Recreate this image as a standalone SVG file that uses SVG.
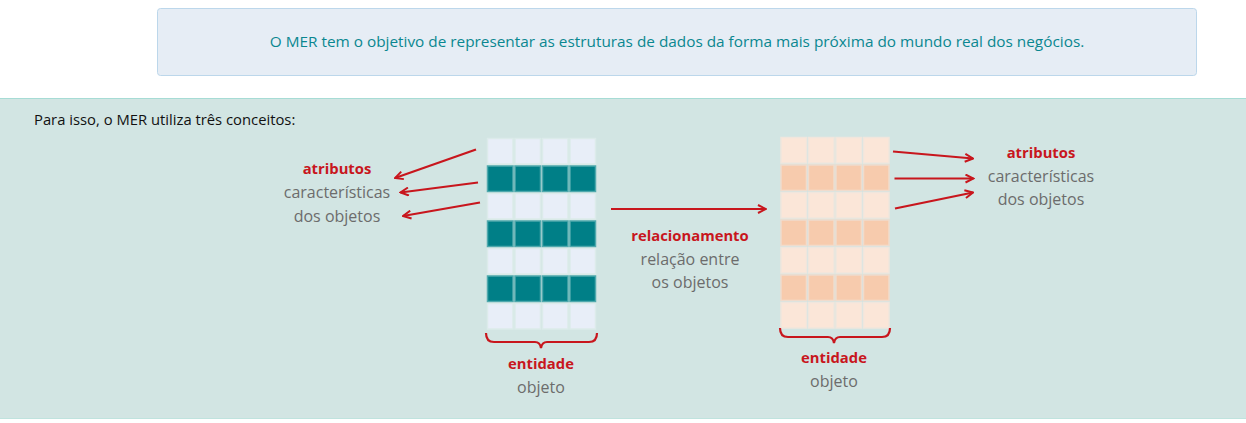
<svg xmlns="http://www.w3.org/2000/svg" width="1246" height="423" viewBox="0 0 1246 423">
<defs>
<style>
.t{font-family:"Open Sans","Noto Sans","Liberation Sans",sans-serif;}
.red{fill:#c8161d;font-weight:bold;font-size:14.8px;}
.gray{fill:#6c6c6c;font-size:16px;}
.ln{stroke:#c8161d;stroke-width:2.2;fill:none;}
.cL{fill:#e8eef8;stroke:#dcebea;stroke-width:1.5;}
.cD{fill:#007f87;stroke:#4fa9ad;stroke-width:1.5;}
.pL{fill:#fbe6d8;stroke:#f0e6dd;stroke-width:1.5;}
.pD{fill:#f7cbad;stroke:#f0dccd;stroke-width:1.5;}
</style>
<marker id="ah" viewBox="0 0 10 10" refX="9" refY="5" markerWidth="10" markerHeight="10" markerUnits="userSpaceOnUse" orient="auto">
<path d="M1,1 L9,5 L1,9" fill="none" stroke="#c8161d" stroke-width="2"/>
</marker>
<g id="rowLightL"><rect class="cL" x="0" y="0" width="25.5" height="25.5"/><rect class="cL" x="27.5" y="0" width="25.5" height="25.5"/><rect class="cL" x="55" y="0" width="25.5" height="25.5"/><rect class="cL" x="82.5" y="0" width="25.5" height="25.5"/></g>
<g id="rowDarkL"><rect class="cD" x="0" y="0" width="25.5" height="25.5"/><rect class="cD" x="27.5" y="0" width="25.5" height="25.5"/><rect class="cD" x="55" y="0" width="25.5" height="25.5"/><rect class="cD" x="82.5" y="0" width="25.5" height="25.5"/></g>
<g id="rowLightR"><rect class="pL" x="0" y="0" width="25.5" height="25.5"/><rect class="pL" x="27.5" y="0" width="25.5" height="25.5"/><rect class="pL" x="55" y="0" width="25.5" height="25.5"/><rect class="pL" x="82.5" y="0" width="25.5" height="25.5"/></g>
<g id="rowDarkR"><rect class="pD" x="0" y="0" width="25.5" height="25.5"/><rect class="pD" x="27.5" y="0" width="25.5" height="25.5"/><rect class="pD" x="55" y="0" width="25.5" height="25.5"/><rect class="pD" x="82.5" y="0" width="25.5" height="25.5"/></g>
</defs>
<rect x="0" y="0" width="1246" height="423" fill="#ffffff"/>
<g id="header">
<rect x="157.5" y="8.5" width="1039" height="67" rx="3" fill="#e6edf5" stroke="#bcd7eb" stroke-width="1"/>
<text class="t" x="677" y="47" text-anchor="middle" font-size="15.35" fill="#0a8790">O MER tem o objetivo de representar as estruturas de dados da forma mais próxima do mundo real dos negócios.</text>
</g>
<g id="band">
<rect x="0" y="98" width="1246" height="320" fill="#d2e5e3"/>
<line x1="0" y1="98.5" x2="1246" y2="98.5" stroke="#a6dcd5" stroke-width="1"/>
<line x1="0" y1="418.5" x2="1246" y2="418.5" stroke="#bfe3de" stroke-width="1"/>
<text class="t" x="34" y="125" font-size="14.8" fill="#111111">Para isso, o MER utiliza três conceitos:</text>
</g>
<g id="entidade1">
<use href="#rowLightL" x="487.5" y="138.5"/>
<use href="#rowDarkL" x="487.5" y="166"/>
<use href="#rowLightL" x="487.5" y="193.5"/>
<use href="#rowDarkL" x="487.5" y="221"/>
<use href="#rowLightL" x="487.5" y="248.5"/>
<use href="#rowDarkL" x="487.5" y="276"/>
<use href="#rowLightL" x="487.5" y="303.5"/>
<path class="ln" d="M486,333 Q486,342 494,342 L535,342 Q540,342 541,348 Q542,342 547,342 L589,342 Q597,342 597,333"/>
<text class="t red" x="541" y="369" text-anchor="middle">entidade</text>
<text class="t gray" x="541" y="393" text-anchor="middle">objeto</text>
</g>
<g id="entidade2">
<use href="#rowLightR" x="781" y="137.5"/>
<use href="#rowDarkR" x="781" y="165"/>
<use href="#rowLightR" x="781" y="192.5"/>
<use href="#rowDarkR" x="781" y="220"/>
<use href="#rowLightR" x="781" y="247.5"/>
<use href="#rowDarkR" x="781" y="275"/>
<use href="#rowLightR" x="781" y="302.5"/>
<path class="ln" d="M780,328 Q780,337 788,337 L828,337 Q833,337 834,343 Q835,337 840,337 L882,337 Q890,337 890,328"/>
<text class="t red" x="834" y="363" text-anchor="middle">entidade</text>
<text class="t gray" x="834" y="387" text-anchor="middle">objeto</text>
</g>
<g id="atributos1">
<text class="t red" x="337" y="174" text-anchor="middle">atributos</text>
<text class="t gray" x="337" y="198" text-anchor="middle">características</text>
<text class="t gray" x="337" y="222" text-anchor="middle">dos objetos</text>
</g>
<g id="atributos2">
<text class="t red" x="1041" y="158" text-anchor="middle">atributos</text>
<text class="t gray" x="1041" y="182" text-anchor="middle">características</text>
<text class="t gray" x="1041" y="205" text-anchor="middle">dos objetos</text>
</g>
<g id="relacionamento">
<text class="t red" x="690" y="241" text-anchor="middle">relacionamento</text>
<text class="t gray" x="690" y="265" text-anchor="middle">relação entre</text>
<text class="t gray" x="690" y="288" text-anchor="middle">os objetos</text>
</g>
<g id="connectors">
<line class="ln" x1="476" y1="149.5" x2="395" y2="178" marker-end="url(#ah)"/>
<line class="ln" x1="478" y1="182.5" x2="400.5" y2="192.5" marker-end="url(#ah)"/>
<line class="ln" x1="480" y1="202.5" x2="403" y2="216" marker-end="url(#ah)"/>
<line class="ln" x1="893" y1="151.5" x2="973" y2="158.5" marker-end="url(#ah)"/>
<line class="ln" x1="894.5" y1="178.5" x2="973.5" y2="178.5" marker-end="url(#ah)"/>
<line class="ln" x1="895" y1="208.5" x2="973" y2="192.5" marker-end="url(#ah)"/>
<line class="ln" x1="611" y1="209" x2="766" y2="209" marker-end="url(#ah)"/>
</g>
</svg>
